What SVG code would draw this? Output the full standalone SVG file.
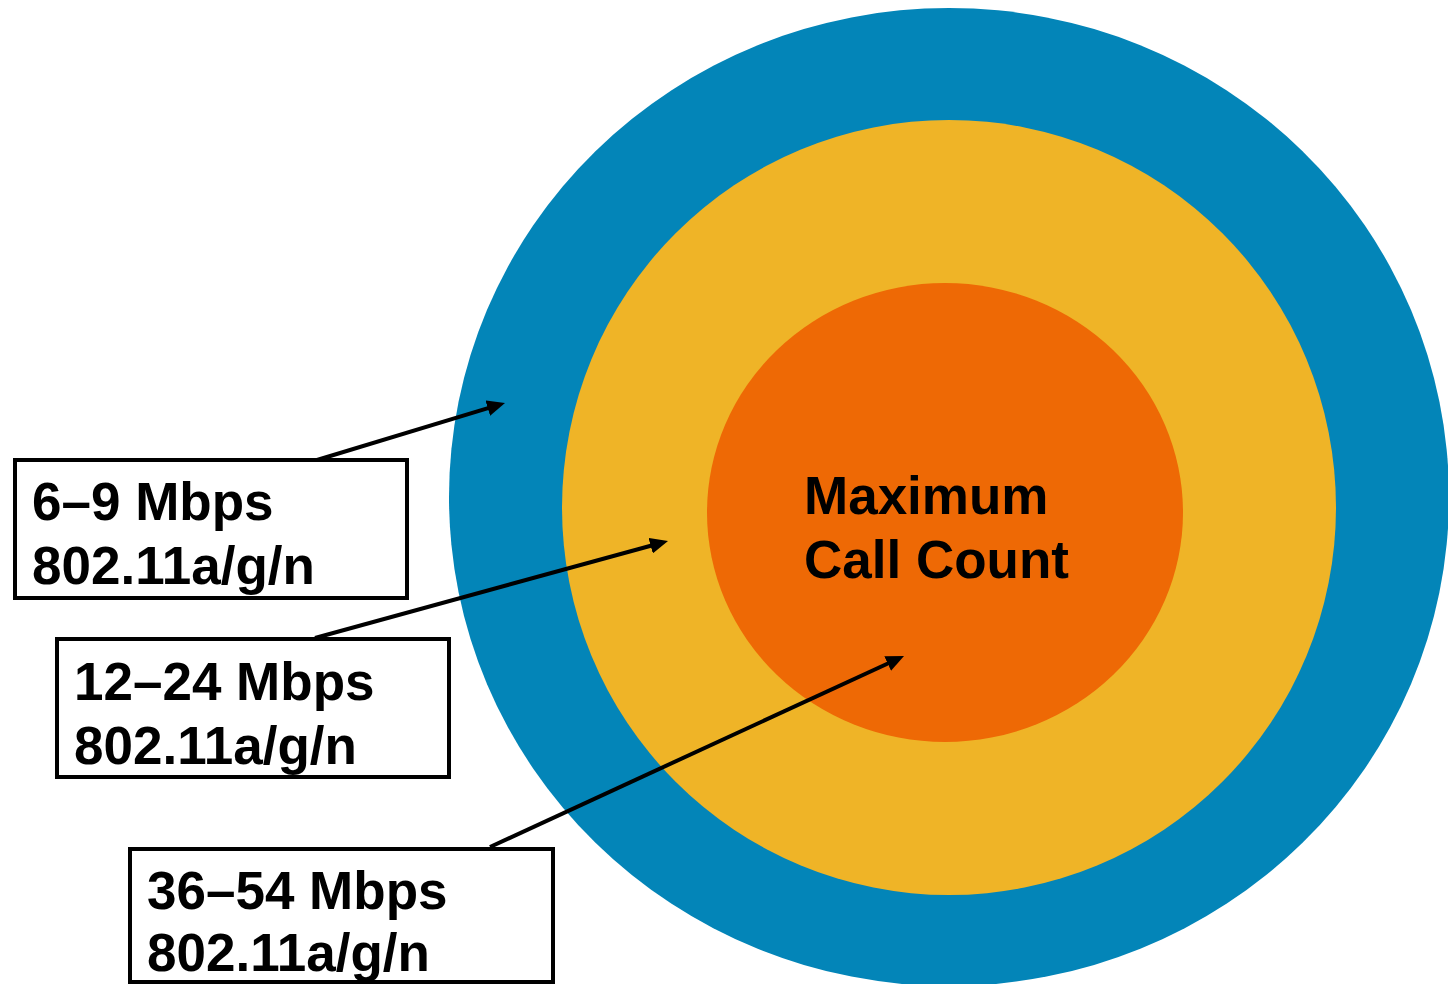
<svg xmlns="http://www.w3.org/2000/svg" width="1448" height="984" viewBox="0 0 1448 984">
  <style>
    .label { font-family: "Liberation Sans", Arial, sans-serif; font-weight: bold; font-size: 53px; fill: #000000; }
    .box { fill: #ffffff; stroke: #000000; stroke-width: 4; }
    .arrow { stroke: #000000; stroke-width: 4; fill: none; marker-end: url(#head); }
  </style>
  <defs>
    <marker id="head" markerUnits="userSpaceOnUse" markerWidth="18" markerHeight="16" refX="2" refY="8" orient="auto">
      <path d="M0,0 L18,8 L0,16 z" fill="#000000"/>
    </marker>
  </defs>
  <rect width="1448" height="984" fill="#ffffff"/>

  <!-- coverage rings -->
  <g id="ring-outer">
    <ellipse cx="949" cy="497" rx="500" ry="489" fill="#0385B8"/>
  </g>
  <g id="ring-middle">
    <ellipse cx="949" cy="507.5" rx="387" ry="387.5" fill="#EFB427"/>
  </g>
  <g id="ring-inner">
    <ellipse cx="945" cy="512.5" rx="238" ry="229.5" fill="#EE6905"/>
    <text class="label" x="804" y="514">Maximum</text>
    <text class="label" x="804" y="578">Call Count</text>
  </g>

  <!-- rate labels -->
  <g id="rate-6-9">
    <rect class="box" x="15" y="460" width="392" height="138"/>
    <text class="label" x="32" y="520">6–9 Mbps</text>
    <text class="label" x="32" y="584">802.11a/g/n</text>
  </g>
  <g id="rate-12-24">
    <rect class="box" x="57" y="639" width="392" height="138"/>
    <text class="label" x="74" y="700">12–24 Mbps</text>
    <text class="label" x="74" y="764">802.11a/g/n</text>
  </g>
  <g id="rate-36-54">
    <rect class="box" x="130" y="849" width="423" height="133"/>
    <text class="label" x="147" y="909">36–54 Mbps</text>
    <text class="label" x="147" y="971">802.11a/g/n</text>
  </g>

  <!-- pointers from labels into rings -->
  <g id="connectors">
    <line class="arrow" x1="317" y1="460" x2="489.7" y2="407.6"/>
    <line class="arrow" x1="315" y1="638" x2="652.6" y2="545.2"/>
    <line class="arrow" x1="490" y1="847" x2="889.5" y2="662.7"/>
  </g>
</svg>
